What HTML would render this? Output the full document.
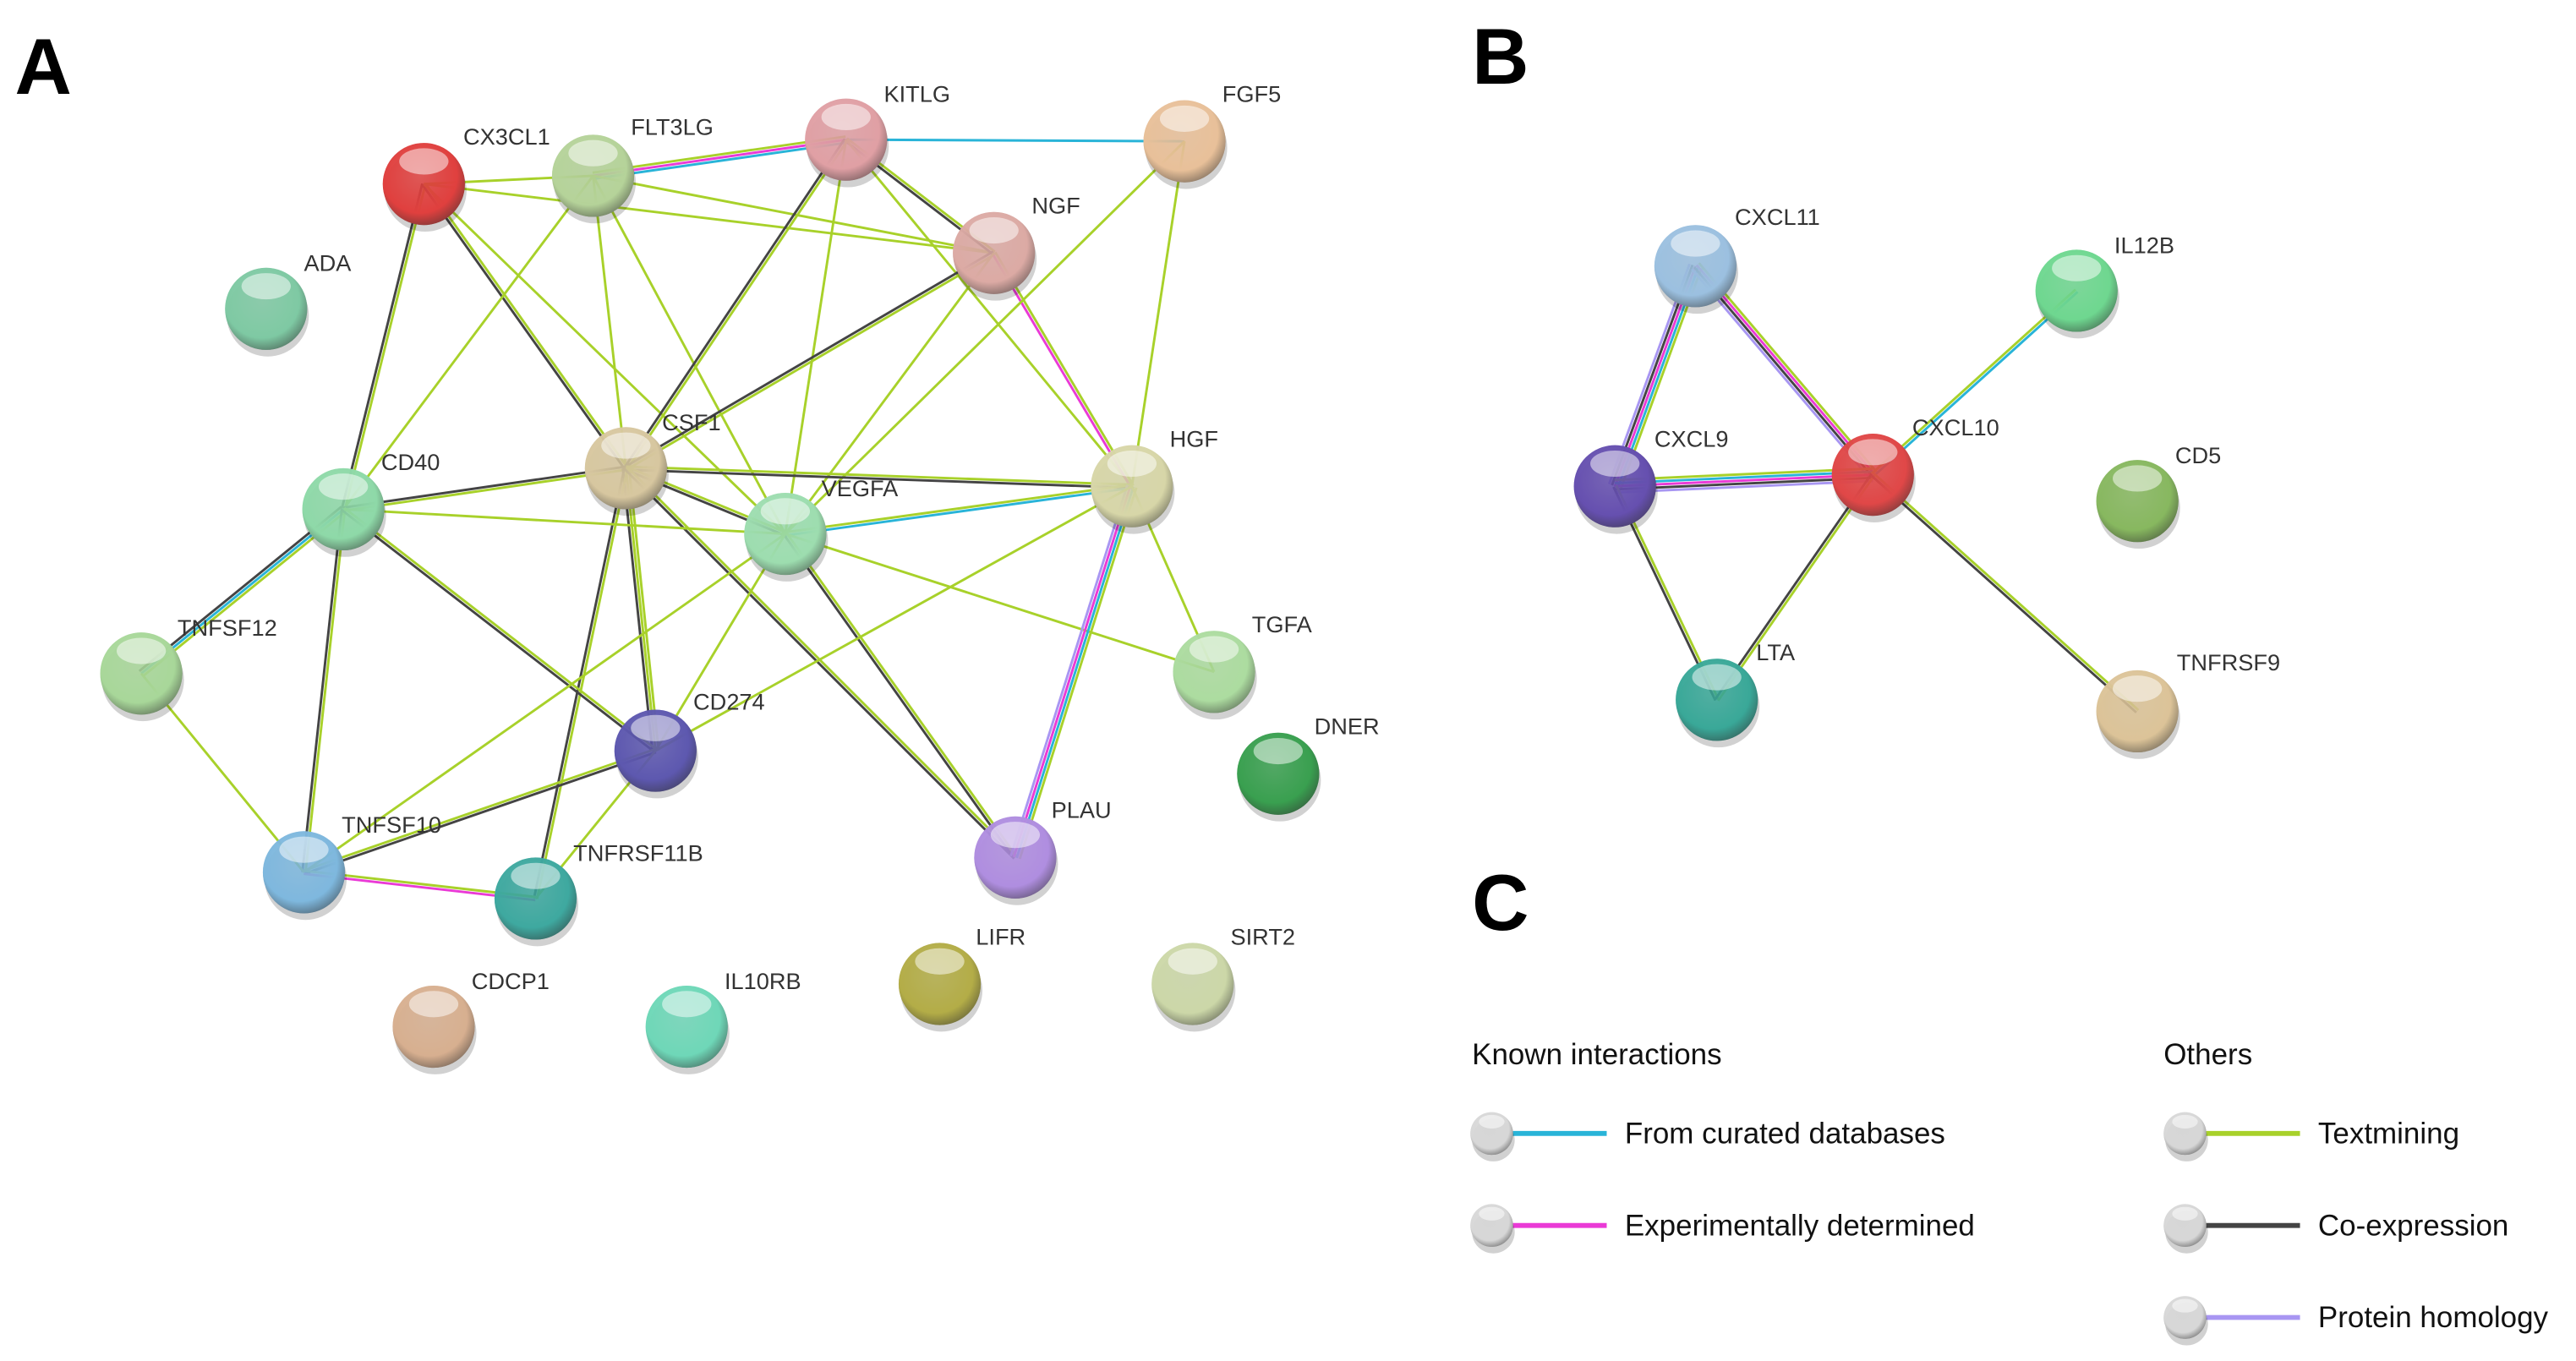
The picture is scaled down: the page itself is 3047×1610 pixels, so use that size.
<!DOCTYPE html>
<html><head><meta charset="utf-8">
<style>
html,body{margin:0;padding:0;background:#fff;}
svg{display:block;}
.lb{font-family:"Liberation Sans",sans-serif;font-size:14px;fill:#333;}
.lg{font-family:"Liberation Sans",sans-serif;font-size:18px;fill:#111;}
.pl{font-family:"Liberation Sans",sans-serif;font-size:48px;font-weight:bold;fill:#000;}
</style></head>
<body>
<svg id="s" width="3047" height="1610" viewBox="0 0 1568 828.5" xmlns="http://www.w3.org/2000/svg">
<defs id="d"></defs>
<g id="edges"></g>
<g id="nodes"></g>
<g>
<text class="pl" x="9" y="57">A</text>
<text class="pl" x="896" y="51">B</text>
<text class="pl" x="896" y="566">C</text>

<text class="lb" x="282" y="88">CX3CL1</text>
<text class="lb" x="384" y="82">FLT3LG</text>
<text class="lb" x="538" y="62">KITLG</text>
<text class="lb" x="744" y="62">FGF5</text>
<text class="lb" x="628" y="130">NGF</text>
<text class="lb" x="185" y="165">ADA</text>
<text class="lb" x="403" y="262">CSF1</text>
<text class="lb" x="232" y="286">CD40</text>
<text class="lb" x="500" y="302">VEGFA</text>
<text class="lb" x="712" y="272">HGF</text>
<text class="lb" x="108" y="387">TNFSF12</text>
<text class="lb" x="762" y="385">TGFA</text>
<text class="lb" x="422" y="432">CD274</text>
<text class="lb" x="800" y="447">DNER</text>
<text class="lb" x="208" y="507">TNFSF10</text>
<text class="lb" x="349" y="524">TNFRSF11B</text>
<text class="lb" x="640" y="498">PLAU</text>
<text class="lb" x="594" y="575">LIFR</text>
<text class="lb" x="749" y="575">SIRT2</text>
<text class="lb" x="287" y="602">CDCP1</text>
<text class="lb" x="441" y="602">IL10RB</text>

<text class="lb" x="1056" y="137">CXCL11</text>
<text class="lb" x="1287" y="154">IL12B</text>
<text class="lb" x="1007" y="272">CXCL9</text>
<text class="lb" x="1164" y="265">CXCL10</text>
<text class="lb" x="1324" y="282">CD5</text>
<text class="lb" x="1069" y="402">LTA</text>
<text class="lb" x="1325" y="408">TNFRSF9</text>

<text class="lg" x="896" y="648">Known interactions</text>
<text class="lg" x="1317" y="648">Others</text>
<text class="lg" x="989" y="696">From curated databases</text>
<text class="lg" x="989" y="752">Experimentally determined</text>
<text class="lg" x="1411" y="696">Textmining</text>
<text class="lg" x="1411" y="752">Co-expression</text>
<text class="lg" x="1411" y="808">Protein homology</text>
</g>
</svg>
<script>
var NS="http://www.w3.org/2000/svg";
var N={
CX3CL1:[258,112,"#e0403f"],FLT3LG:[361,107,"#b5d39a"],KITLG:[515,85,"#e0a0a5"],FGF5:[721,86,"#e8c09a"],
NGF:[605,154,"#dcaaa5"],ADA:[162,188,"#7fc9a3"],CSF1:[381,285,"#d8c7a0"],CD40:[209,310,"#8fd9a8"],
VEGFA:[478,325,"#9dddb0"],HGF:[689,296,"#d8d6a8"],TNFSF12:[86,410,"#a8d89a"],TGFA:[739,409,"#acdca0"],
CD274:[399,457,"#5e58b0"],DNER:[778,471,"#3aa050"],TNFSF10:[185,531,"#7fb8de"],TNFRSF11B:[326,547,"#3fa9a0"],
PLAU:[618,522,"#b08ee0"],LIFR:[572,599,"#b3ad48"],SIRT2:[726,599,"#ccd8a8"],CDCP1:[264,625,"#d8b090"],
IL10RB:[418,625,"#6fd8b8"],
CXCL11:[1032,162,"#9cc0e0"],IL12B:[1264,177,"#6fd890"],CXCL9:[983,296,"#6650b0"],CXCL10:[1140,289,"#e04848"],
CD5:[1301,305,"#88b860"],LTA:[1045,426,"#3aa898"],TNFRSF9:[1301,433,"#dcc498"]};
var C={T:"#a8d12a",C:"#444",D:"#29b4d8",E:"#ea3ad6",H:"#a896f2"};
var E=[["CX3CL1","FLT3LG","T"],["CX3CL1","NGF","T"],["CX3CL1","CD40","TC"],["CX3CL1","CSF1","TC"],["CX3CL1","VEGFA","T"],
["FLT3LG","KITLG","TED"],["FLT3LG","NGF","T"],["FLT3LG","CSF1","T"],["FLT3LG","CD40","T"],["FLT3LG","VEGFA","T"],
["KITLG","FGF5","D"],["KITLG","NGF","TC"],["KITLG","CSF1","TC"],["KITLG","VEGFA","T"],["KITLG","HGF","T"],
["NGF","CSF1","TC"],["NGF","HGF","TE"],["NGF","VEGFA","T"],["FGF5","VEGFA","T"],["FGF5","HGF","T"],
["CSF1","CD40","TC"],["CSF1","HGF","TC"],["CSF1","VEGFA","TC"],["CSF1","CD274","TTC"],["CSF1","TNFRSF11B","TC"],["CSF1","PLAU","TC"],
["CD40","VEGFA","T"],["CD40","TNFSF12","TDC"],["CD40","TNFSF10","TC"],["CD40","CD274","TC"],
["VEGFA","HGF","TD"],["VEGFA","PLAU","TC"],["VEGFA","TGFA","T"],["VEGFA","CD274","T"],["VEGFA","TNFSF10","T"],
["HGF","PLAU","TDEH"],["HGF","TGFA","T"],["HGF","CD274","T"],["TNFSF12","TNFSF10","T"],["TNFSF10","CD274","TC"],
["TNFSF10","TNFRSF11B","TE"],["CD274","TNFRSF11B","T"],
["CXCL11","CXCL9","TDECH"],["CXCL11","CXCL10","TECH"],["CXCL9","CXCL10","TDECH"],["CXCL10","IL12B","TD"],
["CXCL9","LTA","TC"],["CXCL10","LTA","TC"],["CXCL10","TNFRSF9","TC"]];
var eg=document.getElementById("edges"),ng=document.getElementById("nodes"),d=document.getElementById("d");
function ln(x1,y1,x2,y2,c,w,p){var l=document.createElementNS(NS,"line");l.setAttribute("x1",x1);l.setAttribute("y1",y1);l.setAttribute("x2",x2);l.setAttribute("y2",y2);l.setAttribute("stroke",c);l.setAttribute("stroke-width",w);p.appendChild(l);}
E.forEach(function(e){var a=N[e[0]],b=N[e[1]],dx=b[0]-a[0],dy=b[1]-a[1],L=Math.hypot(dx,dy),nx=-dy/L,ny=dx/L,k=e[2].length,g=1.9;
for(var i=0;i<k;i++){var o=(i-(k-1)/2)*g;ln(a[0]+nx*o,a[1]+ny*o,b[0]+nx*o,b[1]+ny*o,C[e[2][i]],1.5,eg);}});
function sphere(id,x,y,r,col,p){
var gr=document.createElementNS(NS,"radialGradient");gr.setAttribute("id",id);gr.setAttribute("cx","0.45");gr.setAttribute("cy","0.4");gr.setAttribute("r","0.65");
[["0",col,"0.7"],["0.7",col,"1"],["1","#333","1"]].forEach(function(s){var st=document.createElementNS(NS,"stop");st.setAttribute("offset",s[0]);st.setAttribute("stop-color",s[1]);st.setAttribute("stop-opacity",s[2]);gr.appendChild(st);});
d.appendChild(gr);
var sh=document.createElementNS(NS,"ellipse");sh.setAttribute("cx",x+1);sh.setAttribute("cy",y+4);sh.setAttribute("rx",r);sh.setAttribute("ry",r);sh.setAttribute("fill","#000");sh.setAttribute("opacity","0.18");p.appendChild(sh);
var c=document.createElementNS(NS,"circle");c.setAttribute("cx",x);c.setAttribute("cy",y);c.setAttribute("r",r);c.setAttribute("fill","url(#"+id+")");p.appendChild(c);
var c2=document.createElementNS(NS,"circle");c2.setAttribute("cx",x);c2.setAttribute("cy",y);c2.setAttribute("r",r);c2.setAttribute("fill",col);c2.setAttribute("opacity","0.45");p.appendChild(c2);
var h=document.createElementNS(NS,"ellipse");h.setAttribute("cx",x);h.setAttribute("cy",y-r*0.55);h.setAttribute("rx",r*0.6);h.setAttribute("ry",r*0.32);h.setAttribute("fill","#fff");h.setAttribute("opacity","0.5");p.appendChild(h);}
var i=0;for(var k in N){var n=N[k];sphere("g"+(i++),n[0],n[1],25,n[2],ng);}
var lgd=[[908,690,"D"],[908,746,"E"],[1330,690,"T"],[1330,746,"C"],[1330,802,"H"]];
lgd.forEach(function(q,j){ln(q[0]+12,q[1],q[0]+70,q[1],C[q[2]],3,eg);sphere("l"+j,q[0],q[1],13,"#d8d8d8",ng);});
</script>
</body></html>
